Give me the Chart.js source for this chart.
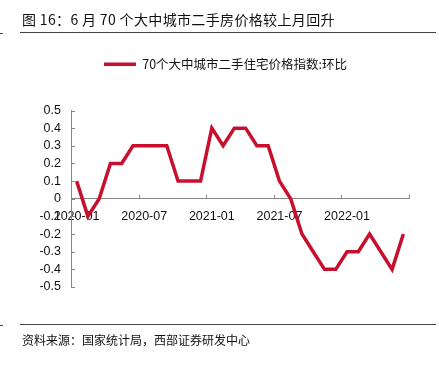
<!DOCTYPE html>
<html>
<head>
<meta charset="utf-8">
<script src="https://cdn.jsdelivr.net/npm/chart.js@4.4.1/dist/chart.umd.min.js"></script>
<style>
  body { margin: 0; background: #fff; }
  #page { position: relative; width: 439px; height: 366px; overflow: hidden; }
  #wrap { position: absolute; left: 0; top: 0; width: 439px; height: 366px; }
  .txt { position: absolute; color: #111; font-family: "Noto Sans CJK SC", sans-serif; white-space: nowrap; }
  .rule { position: absolute; height: 1px; background: #444; }
</style>
</head>
<body>
<div id="page">
  <div id="wrap"><canvas id="chart"></canvas></div>
  <div class="txt" style="left:22px; top:9px; font-size:14px; line-height:20px; letter-spacing:0.35px;">图 16：6 月 70 个大中城市二手房价格较上月回升</div>
  <div class="rule" style="left:20px; top:32px; width:416px;"></div>
  <div class="rule" style="left:0; top:33px; width:3px;"></div>
  <div class="rule" style="left:20px; top:324px; width:416px;"></div>
  <div class="rule" style="left:0; top:325px; width:3px;"></div>
  <div class="txt" style="left:22px; top:331px; font-size:12px; line-height:18px;">资料来源：国家统计局，西部证券研发中心</div>
</div>
<script>
// months of the series (mid-month points)
const months = [
  '2020-01', '2020-02', '2020-03', '2020-04', '2020-05', '2020-06',
  '2020-07', '2020-08', '2020-09', '2020-10', '2020-11', '2020-12',
  '2021-01', '2021-02', '2021-03', '2021-04', '2021-05', '2021-06',
  '2021-07', '2021-08', '2021-09', '2021-10', '2021-11', '2021-12',
  '2022-01', '2022-02', '2022-03', '2022-04', '2022-05', '2022-06'
];

// 二手住宅价格指数 环比
const momValues = [
  0.1, -0.1, 0.0, 0.2, 0.2, 0.3,
  0.3, 0.3, 0.3, 0.1, 0.1, 0.1,
  0.4, 0.3, 0.4, 0.4, 0.3, 0.3,
  0.1, 0.0, -0.2, -0.3, -0.4, -0.4,
  -0.3, -0.3, -0.2, -0.3, -0.4, -0.2
];

const seriesName = '70个大中城市二手住宅价格指数:环比';
const yTicks = [0.5, 0.4, 0.3, 0.2, 0.1, 0, -0.1, -0.2, -0.3, -0.4, -0.5];

const axisGray = '#888888';
const lineRed = '#C8102E';

// extra room under the legend, and nudge it right a little
const legendGap = {
  id: 'legendGap',
  beforeInit(chart) {
    const fit = chart.legend.fit;
    chart.legend.fit = function () {
      fit.bind(chart.legend)();
      this.height += 30;
    };
  },
  beforeDraw(chart) {
    chart.legend.left += 6;
    chart.legend.right += 6;
  }
};

// small inward tick marks on both axes
const innerTicks = {
  id: 'innerTicks',
  afterDraw(chart) {
    const ctx = chart.ctx;
    const xs = chart.scales.x;
    const ys = chart.scales.y;
    const y0 = ys.getPixelForValue(0);
    const x0 = chart.chartArea.left;
    ctx.save();
    ctx.strokeStyle = axisGray;
    ctx.lineWidth = 1;
    ctx.beginPath();
    for (let i = 0; i <= months.length; i += 6) {
      const px = Math.round(xs.getPixelForValue(i - 0.5)) + 0.5;
      ctx.moveTo(px, y0);
      ctx.lineTo(px, y0 - 4);
    }
    const last = Math.round(xs.getPixelForValue(months.length - 0.5)) + 0.5;
    ctx.moveTo(last, y0);
    ctx.lineTo(last, y0 - 4);
    yTicks.forEach(v => {
      const py = Math.round(ys.getPixelForValue(v)) + 0.5;
      ctx.moveTo(x0, py);
      ctx.lineTo(x0 + 4, py);
    });
    ctx.stroke();
    ctx.restore();
  }
};

const ctx = document.getElementById('chart').getContext('2d');

const myChart = new Chart(ctx, {
  type: 'line',
  data: {
    labels: months,
    datasets: [{
      label: seriesName,
      data: momValues,
      borderColor: lineRed,
      backgroundColor: lineRed,
      borderWidth: 3.5,
      pointRadius: 0,
      pointStyle: 'line',
      tension: 0,
      fill: false
    }]
  },
  options: {
    responsive: true,
    maintainAspectRatio: false,
    animation: false,
    layout: {
      padding: { top: 48, left: 30, right: 30, bottom: 79 }
    },
    plugins: {
      legend: {
        position: 'top',
        labels: {
          usePointStyle: true,
          pointStyleWidth: 32,
          boxHeight: 12,
          color: '#111',
          padding: 10,
          font: { family: '"Noto Sans CJK SC", sans-serif', size: 12.5 }
        }
      },
      tooltip: { enabled: false }
    },
    scales: {
      x: {
        type: 'category',
        position: { y: 0 },
        offset: true,
        grid: { display: false, drawTicks: false, offset: true },
        border: { display: true, color: axisGray, width: 1 },
        ticks: {
          autoSkip: false,
          maxRotation: 0,
          padding: 10,
          color: '#111',
          font: { family: '"Liberation Sans", Arial, sans-serif', size: 12.5 },
          callback: function (value, index) {
            return index % 6 === 0 ? months[index] : '';
          }
        }
      },
      y: {
        min: -0.5,
        max: 0.5,
        afterFit: function (scale) { scale.width = 41; },
        grid: { display: false, drawTicks: false },
        border: { display: true, color: axisGray, width: 1 },
        ticks: {
          stepSize: 0.1,
          autoSkip: false,
          padding: 10,
          color: '#111',
          font: { family: '"Liberation Sans", Arial, sans-serif', size: 12.5 },
          callback: function (value) {
            return String(Number(value.toFixed(1)));
          }
        }
      }
    }
  },
  plugins: [legendGap, innerTicks]
});
</script>
</body>
</html>
